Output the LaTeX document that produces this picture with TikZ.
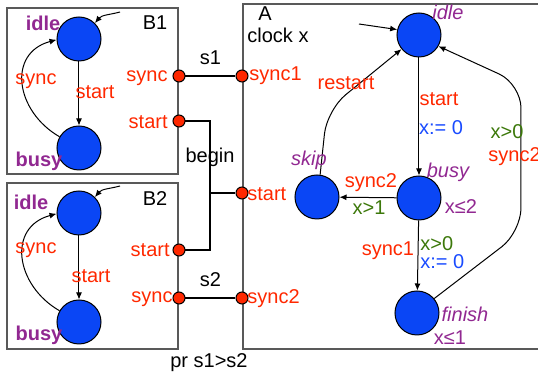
\documentclass[tikz,border=0pt]{standalone}
\usepackage{fontspec}
\setmainfont{Liberation Sans}
\usetikzlibrary{arrows.meta}

\definecolor{sigred}{RGB}{255,40,0}
\definecolor{locpurple}{RGB}{145,40,145}
\definecolor{guardgreen}{RGB}{60,120,10}
\definecolor{resetblue}{RGB}{25,75,255}
\definecolor{stateblue}{RGB}{10,70,245}

\tikzset{
	frame/.style={draw=black!65, line width=0.7pt},
	state/.style={circle, draw, line width=0.5pt, fill=stateblue, minimum size=22pt, inner sep=0pt},
	port/.style={circle, draw, line width=0.5pt, fill=sigred, minimum size=6pt, inner sep=0pt},
	trans/.style={-{Latex[length=3.5pt,width=3pt]}, line width=0.5pt},
	wire/.style={line width=0.9pt},
	sig/.style={text=sigred, inner sep=0pt},
	loc/.style={text=locpurple, font=\fontsize{10}{12}\selectfont\bfseries, inner sep=0pt},
	aloc/.style={text=locpurple, font=\fontsize{10}{12}\selectfont\itshape, inner sep=0pt},
	guard/.style={text=guardgreen, inner sep=0pt},
	reset/.style={text=resetblue, inner sep=0pt},
	plain/.style={inner sep=0pt}
}

\begin{document}
\begin{tikzpicture}[x=0.5pt, y=-0.5pt, font=\fontsize{10}{12}\selectfont]
		\useasboundingbox (0,0) rectangle (538,379);

		\draw[frame] (7,8) rectangle (178,174);
		\draw[frame] (7,183) rectangle (178,349);
		\draw[frame] (243,4) rectangle (560,349);

		% B1
		\node[state] (b1idle) at (79,39) {};
		\node[state] (b1busy) at (79,148) {};
		\coordinate (b1init) at (120,12);
		\draw[trans] (b1init) to[out=195,in=50] (b1idle.45);
		\draw[trans] (b1idle) -- (b1busy);
		\draw[trans] (b1busy.150) to[out=150,in=195,looseness=1.35] (b1idle.182);
		\node[loc] (b1idlelbl) at (43,23) {idle};
		\node[loc] (b1busylbl) at (39,161) {busy};
		\node[plain] (b1name) at (155,23) {B1};
		\node[sig] (b1synclbl) at (36,81) {sync};
		\node[sig] (b1startlbl) at (95,92) {start};

		% B2
		\node[state] (b2idle) at (79,213) {};
		\node[state] (b2busy) at (79,322) {};
		\coordinate (b2init) at (120,186);
		\draw[trans] (b2init) to[out=195,in=50] (b2idle.45);
		\draw[trans] (b2idle) -- (b2busy);
		\draw[trans] (b2busy.150) to[out=150,in=195,looseness=1.35] (b2idle.182);
		\node[loc] (b2idlelbl) at (31,202) {idle};
		\node[loc] (b2busylbl) at (39,335) {busy};
		\node[plain] (b2name) at (155,199) {B2};
		\node[sig] (b2synclbl) at (36,250) {sync};
		\node[sig] (b2startlbl) at (91,276) {start};

		% ports and wiring
		\node[port] (b1sync) at (179,76) {};
		\node[port] (b1start) at (179,121) {};
		\node[port] (b2start) at (179,250) {};
		\node[port] (b2sync) at (179,298) {};
		\node[port] (async1) at (242,76) {};
		\node[port] (astart) at (242,193) {};
		\node[port] (async2) at (242,298) {};
		\node[sig, anchor=east] at (168,78) {sync};
		\node[sig, anchor=east] at (168,122) {start};
		\node[sig, anchor=east] at (170,250) {start};
		\node[sig, anchor=east] at (173,299) {sync};
		\node[sig, anchor=west] at (249,76) {sync1};
		\node[sig, anchor=west] at (247,194) {start};
		\node[sig, anchor=west] at (247,299) {sync2};

		\coordinate (bus) at (210,193);
		\draw[wire] (b1sync) -- node[plain, above=5pt] {s1} (async1);
		\draw[wire] (b2sync) -- node[plain, above=5pt] {s2} (async2);
		\draw[wire] (b1start) -| (bus) |- (b2start);
		\draw[wire] (bus) -- (astart);
		\node[plain] (beginlbl) at (210,157) {begin};
		\node[plain] (prio) at (209,363) {pr s1>s2};

		% A
		\node[plain] (aname) at (265,14) {A};
		\node[plain] (aclock) at (278,35) {clock x};
		\node[state] (idle) at (419,35) {};
		\node[state] (busy) at (419,198) {};
		\node[state] (skip) at (317,197) {};
		\node[state] (finish) at (417,313) {};
		\coordinate (ainit) at (359,24);
		\draw[trans] (ainit) -- (idle.166);
		\draw[trans] (idle) -- (busy);
		\draw[trans] (busy) -- (skip);
		\draw[trans] (busy) -- (finish);
		\draw[trans, rounded corners=12pt] (skip.82) -- (327,110) -- (idle.219);
		\draw[trans, rounded corners=12pt] (finish.40) -- (521,232) -- (521,84) -- (idle.-30);

		\node[aloc] at (448,12) {idle};
		\node[aloc] at (448,172) {busy};
		\node[aloc] at (309,160) {skip};
		\node[aloc] at (465,314) {finish};
		\node[plain, text=locpurple] at (461,207) {x≤2};
		\node[plain, text=locpurple] at (450,338) {x≤1};

		\node[sig] at (346,83) {restart};
		\node[sig] at (439,99) {start};
		\node[reset] at (441,128) {x:= 0};
		\node[guard] at (507,132) {x>0};
		\node[sig, anchor=west] at (488,157) {sync2};
		\node[sig] at (371,183) {sync2};
		\node[guard] at (369,208) {x>1};
		\node[sig] at (388,251) {sync1};
		\node[guard, anchor=west] at (420,244) {x>0};
		\node[reset, anchor=west] at (420,262) {x:= 0};
	\end{tikzpicture}
\end{document}
